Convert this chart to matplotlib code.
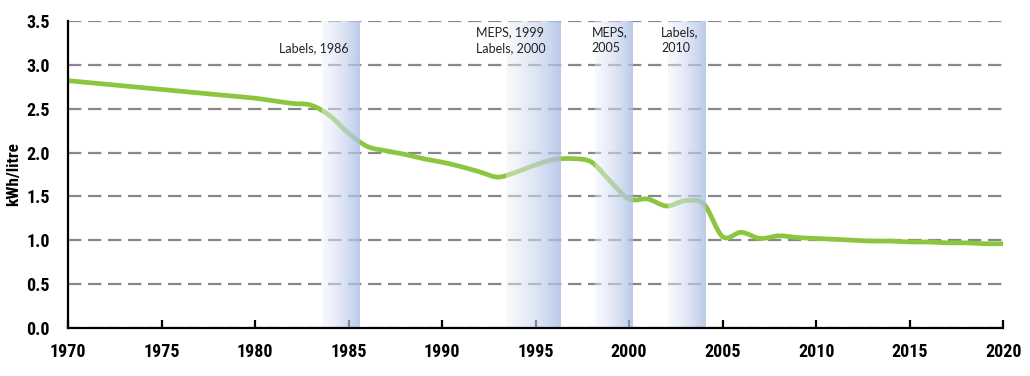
import numpy as np
import matplotlib.pyplot as plt
from matplotlib.path import Path
from matplotlib.patches import PathPatch
import matplotlib.colors as mcolors

years = list(range(1970, 2021))
kwh_per_litre = [2.82, 2.80, 2.78, 2.76, 2.74, 2.72, 2.70, 2.68, 2.66, 2.64,
                 2.62, 2.59, 2.56, 2.54, 2.42, 2.22, 2.07, 2.02, 1.98, 1.93,
                 1.89, 1.84, 1.78, 1.72, 1.78, 1.86, 1.92, 1.93, 1.89, 1.67,
                 1.47, 1.47, 1.39, 1.45, 1.41, 1.04, 1.09, 1.02, 1.05, 1.03,
                 1.02, 1.01, 1.00, 0.99, 0.99, 0.98, 0.98, 0.97, 0.97, 0.96,
                 0.96]

# policy periods (start, end) and their labels
band_starts = [1983.6, 1993.4, 1998.2, 2002.1]
band_ends = [1985.6, 1996.3, 2000.2, 2004.1]
band_labels = ['Labels, 1986', 'MEPS, 1999\nLabels, 2000', 'MEPS,\n2005', 'Labels,\n2010']
label_x = [1981.3, 1991.8, 1998.0, 2001.7]

tick_fam = ['Roboto Condensed', 'Liberation Sans Narrow', 'Liberation Sans']

fig = plt.figure(figsize=(10.30, 3.76), dpi=100)
ax = fig.add_axes([0.066, 0.128, 0.908, 0.816])

# smooth curve through the points (Catmull-Rom as cubic Bezier)
pts = np.column_stack([years, kwh_per_litre]).astype(float)
ext = np.vstack([pts[0], pts, pts[-1]])
verts = [tuple(pts[0])]
codes = [Path.MOVETO]
for i in range(1, len(ext) - 2):
    p0, p1, p2, p3 = ext[i - 1], ext[i], ext[i + 1], ext[i + 2]
    verts += [tuple(p1 + (p2 - p0) / 6), tuple(p2 - (p3 - p1) / 6), tuple(p2)]
    codes += [Path.CURVE4] * 3
ax.add_patch(PathPatch(Path(verts, codes), fill=False, edgecolor='#8cc63e', lw=3.4,
                       capstyle='round', joinstyle='round', zorder=2))

c0 = np.array(mcolors.to_rgb('#f0f3fb'))
c1 = np.array(mcolors.to_rgb('#aabde3'))
t = np.linspace(0, 1, 256)
rgba = np.zeros((1, 256, 4))
rgba[0, :, :3] = c0 + (c1 - c0) * t[:, None]
rgba[0, :, 3] = 0.45 + 0.35 * t
for s, e in zip(band_starts, band_ends):
    ax.imshow(rgba, extent=[s, e, 0, 3.5], aspect='auto', zorder=3,
              interpolation='bilinear')

for x, txt in zip(label_x, band_labels):
    ax.text(x, 3.12, txt, fontsize=9, family='Lato', ha='left', va='bottom',
            linespacing=1.45, color='#222222', zorder=5)

ax.set_xlim(1970, 2020)
ax.set_ylim(0, 3.5)
ax.set_xticks(range(1970, 2021, 5))
ax.set_yticks(np.arange(0, 3.51, 0.5))
ax.set_yticklabels([f'{v:.1f}' for v in np.arange(0, 3.51, 0.5)])

ax.yaxis.grid(True, color='#888888', linestyle=(0, (6, 3)), lw=1.6)
for gl in ax.get_ygridlines():
    gl.set_zorder(4)

for side in ['top', 'right']:
    ax.spines[side].set_visible(False)
for side in ['left', 'bottom']:
    ax.spines[side].set_linewidth(1.6)
    ax.spines[side].set_zorder(6)

ax.tick_params(axis='x', direction='in', length=6, width=1.6, pad=11)
ax.tick_params(axis='y', length=0, pad=13)
for lab in ax.get_xticklabels() + ax.get_yticklabels():
    lab.set_family(tick_fam)
    lab.set_fontweight('bold')
    lab.set_fontsize(13)

ax.set_ylabel('kWh/litre', family=tick_fam, fontweight='bold', fontsize=12.5, labelpad=4)

fig.savefig('out.png', dpi=100)
